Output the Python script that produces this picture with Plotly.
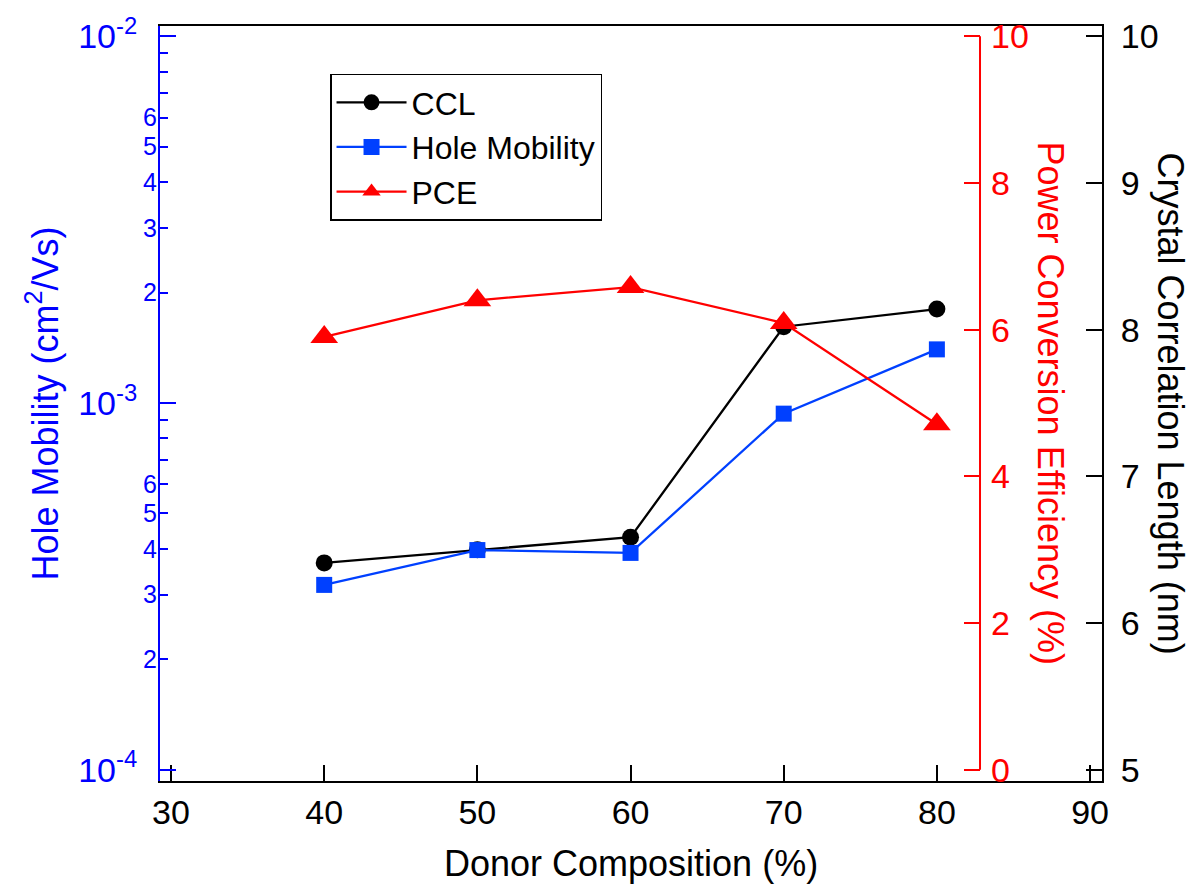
import plotly.graph_objects as go

# ---- data ----
composition = [40, 50, 60, 70, 80]
ccl_nm = [6.41, 6.50, 6.585, 8.02, 8.14]
hole_mobility = [3.19e-4, 3.97e-4, 3.90e-4, 9.35e-4, 1.40e-3]
pce = [5.90, 6.40, 6.58, 6.09, 4.71]

x_ticks = [30, 40, 50, 60, 70, 80, 90]
decade_vals = [1e-4, 1e-3, 1e-2]
decade_text = ["10<sup>-4</sup>", "10<sup>-3</sup>", "10<sup>-2</sup>"]
minor_vals = [m * d for d in (1e-4, 1e-3) for m in range(2, 10)]
minor_text = [str(m) if m <= 6 else " " for d in (1e-4, 1e-3) for m in range(2, 10)]
pce_ticks = [0, 2, 4, 6, 8, 10]
ccl_ticks = [5, 6, 7, 8, 9, 10]

FONT = "Liberation Sans, Arial, sans-serif"
BLUE_AX = "#0000ff"
BLUE = "#0040ff"
RED = "#ff0000"

fig = go.Figure()
fig.add_trace(go.Scatter(x=composition, y=ccl_nm, name="CCL", yaxis="y",
                         mode="lines+markers", line=dict(color="black", width=2.3),
                         marker=dict(symbol="circle", size=17, color="black")))
fig.add_trace(go.Scatter(x=composition, y=hole_mobility, name="Hole Mobility", yaxis="y2",
                         mode="lines+markers", line=dict(color=BLUE, width=2.3),
                         marker=dict(symbol="square", size=16, color=BLUE)))
fig.add_trace(go.Scatter(x=composition, y=pce, name="PCE", yaxis="y3",
                         mode="lines+markers", line=dict(color=RED, width=2.3),
                         marker=dict(symbol="triangle-up", size=24, color=RED)))
# invisible helper so the minor-label log axis is drawn
fig.add_trace(go.Scatter(x=composition, y=hole_mobility, yaxis="y4", mode="markers",
                         marker=dict(opacity=0), showlegend=False, hoverinfo="skip"))

RED_POS = 0.8705

fig.update_layout(
    width=1193, height=892,
    margin=dict(l=160, r=91, t=23, b=111),
    paper_bgcolor="white", plot_bgcolor="white",
    font=dict(family=FONT, size=34, color="black"),
    showlegend=True,
    legend=dict(x=0.1805, y=0.937, xanchor="left", yanchor="top",
                bordercolor="black", borderwidth=1.5, bgcolor="white",
                font=dict(size=32, color="black"), tracegroupgap=0,
                itemwidth=70),
    xaxis=dict(range=[29.28, 90.78], tickvals=x_ticks, ticks="inside", ticklen=16,
               tickwidth=2, tickcolor="black", showline=True, linecolor="black",
               linewidth=2, mirror=True, showgrid=False, zeroline=False,
               tickfont=dict(size=34, color="black"), ticklabelstandoff=0),
    yaxis=dict(range=[4.923, 10.07], tickvals=ccl_ticks, side="right", anchor="x",
               ticks="inside", ticklen=16, tickwidth=2, tickcolor="black",
               showline=True, linecolor="black", linewidth=2, showgrid=False,
               zeroline=False, tickfont=dict(size=34, color="black"),
               ticklabelstandoff=10),
    yaxis2=dict(type="log", range=[-4.031, -1.972], overlaying="y", side="left",
                anchor="x", tickvals=decade_vals, ticktext=decade_text,
                ticks="inside", ticklen=16, tickwidth=2, tickcolor=BLUE_AX,
                showline=True, linecolor=BLUE_AX, linewidth=2, showgrid=False,
                zeroline=False, tickfont=dict(size=34, color=BLUE_AX),
                ticklabelstandoff=14),
    yaxis4=dict(type="log", range=[-4.031, -1.972], overlaying="y", side="left",
                anchor="x", tickvals=minor_vals, ticktext=minor_text,
                ticks="inside", ticklen=8, tickwidth=2, tickcolor=BLUE_AX,
                showline=False, showgrid=False, zeroline=False,
                tickfont=dict(size=25, color=BLUE_AX), ticklabelstandoff=2),
    yaxis3=dict(range=[-0.155, 10.14], overlaying="y", side="right", anchor="free",
                position=RED_POS, tickvals=pce_ticks, ticks="inside", ticklen=16,
                tickwidth=2, tickcolor=RED, showline=False, showgrid=False,
                zeroline=False, tickfont=dict(size=34, color=RED),
                ticklabelstandoff=10),
)

fig.add_shape(type="line", xref="paper", yref="y3", x0=RED_POS, x1=RED_POS,
              y0=pce_ticks[0], y1=pce_ticks[-1], line=dict(color=RED, width=2))

fig.add_annotation(text="Donor Composition (%)", xref="paper", yref="paper",
                   x=0.5, y=-0.109, xanchor="center", yanchor="middle", showarrow=False,
                   font=dict(size=36, color="black"))
fig.add_annotation(text="Hole Mobility (cm<sup>2</sup>/Vs)", xref="paper", yref="paper",
                   x=-0.1253, y=0.5, xanchor="center", yanchor="middle", textangle=-90,
                   showarrow=False, font=dict(size=36, color=BLUE_AX))
fig.add_annotation(text="Power Conversion Efficiency (%)", xref="paper", yref="paper",
                   x=0.9448, y=0.5, xanchor="center", yanchor="middle", textangle=90,
                   showarrow=False, font=dict(size=36, color=RED))
fig.add_annotation(text="Crystal Correlation Length (nm)", xref="paper", yref="paper",
                   x=1.0722, y=0.5, xanchor="center", yanchor="middle", textangle=90,
                   showarrow=False, font=dict(size=36, color="black"))

fig.write_html("out.html")
